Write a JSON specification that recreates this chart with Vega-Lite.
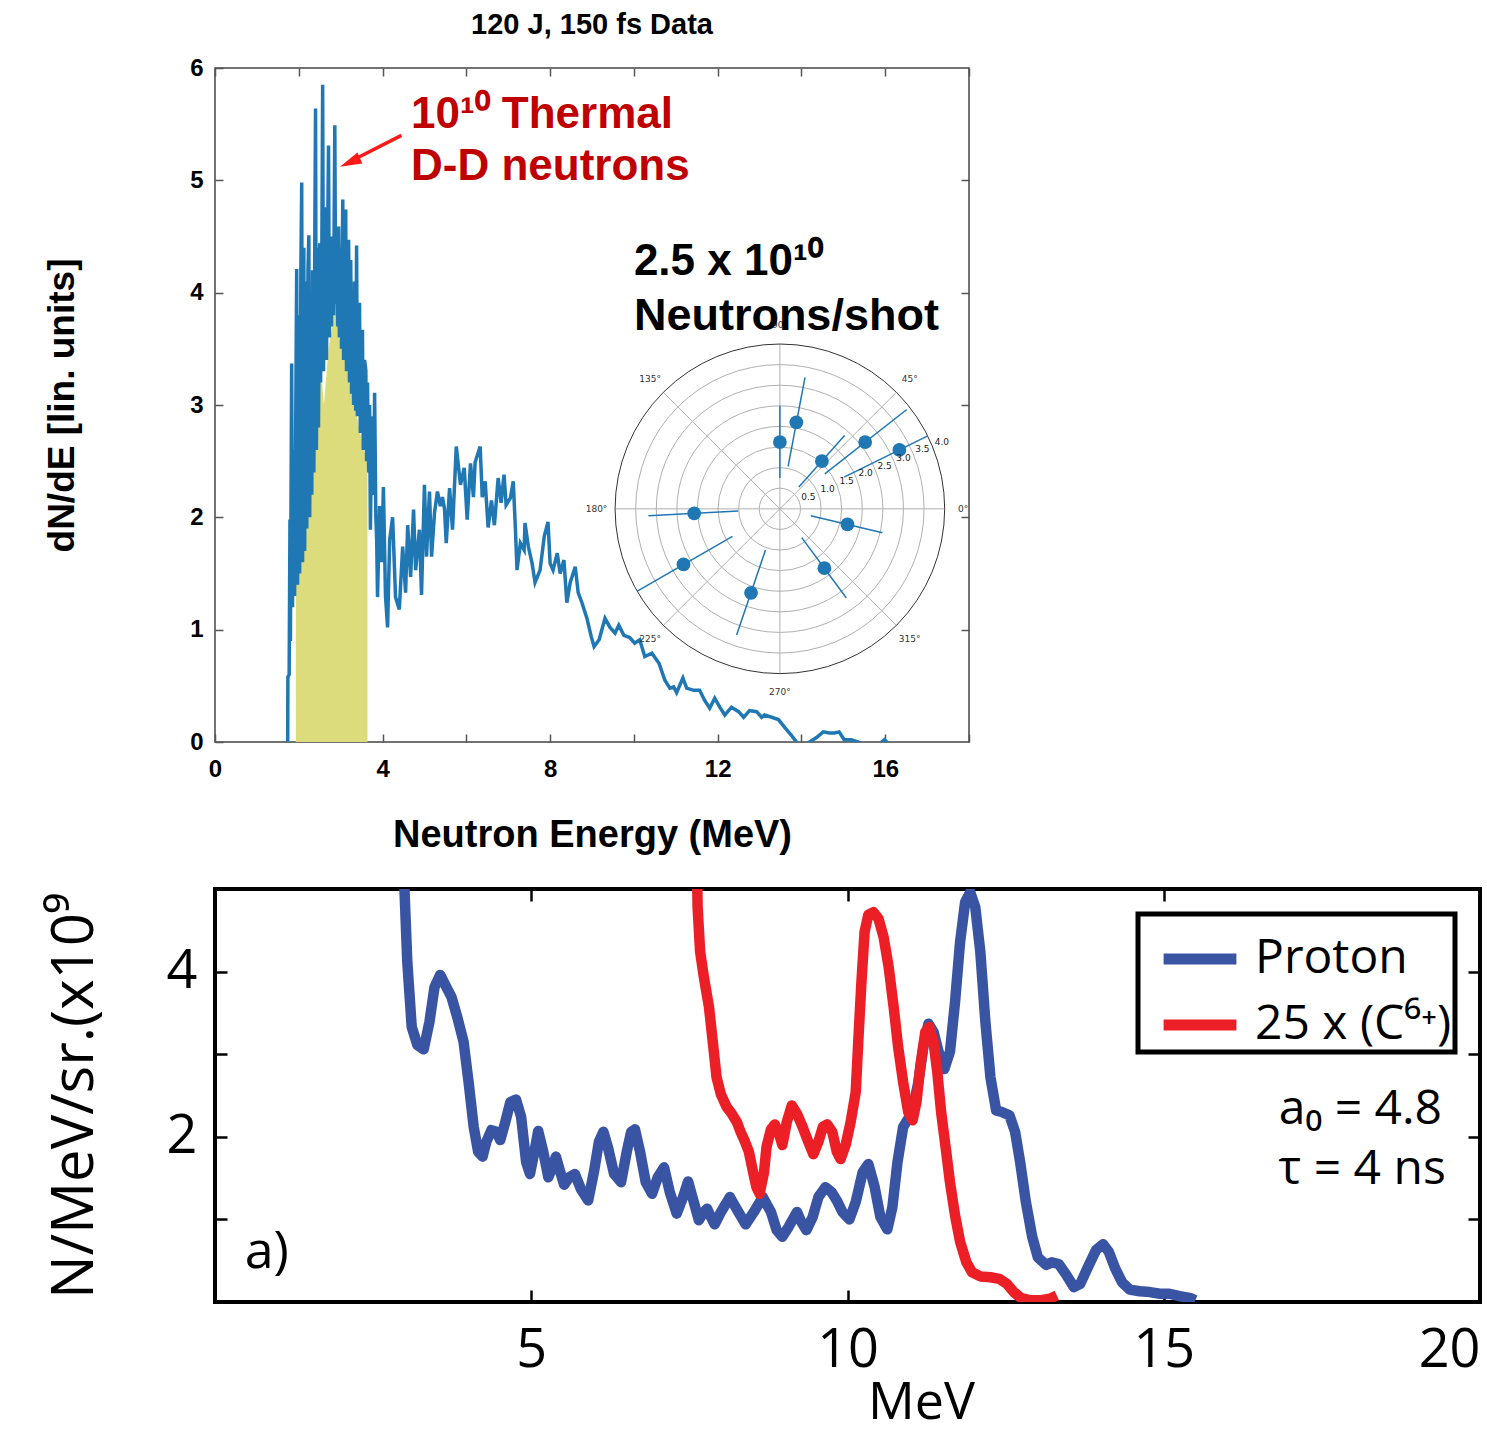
{
  "$schema": "https://vega.github.io/schema/vega-lite/v6.json",
  "background": "white",
  "padding": {"left": 42, "top": 10, "right": 0, "bottom": 0},
  "columns": 1,
  "align": "none",
  "spacing": 30,
  "resolve": {"scale": {"color": "independent", "size": "independent"}, "legend": {"color": "independent", "size": "independent"}},
  "datasets": {
    "neutron": [
      {"E":1.735,"v":-0.05},{"E":1.74,"v":0.58},{"E":1.77,"v":0.6},{"E":1.79,"v":1.98},{"E":1.80,"v":0.9},{"E":1.83,"v":3.37},{"E":1.85,"v":1.2},{"E":1.88,"v":2.6},{"E":1.90,"v":1.3},{"E":1.93,"v":3.0},{"E":1.95,"v":4.21},{"E":1.97,"v":1.4},{"E":2.00,"v":3.8},{"E":2.02,"v":1.5},{"E":2.05,"v":4.2},{"E":2.07,"v":4.98},{"E":2.09,"v":1.6},{"E":2.12,"v":4.4},{"E":2.14,"v":1.7},{"E":2.17,"v":4.1},{"E":2.19,"v":1.9},{"E":2.22,"v":4.2},{"E":2.24,"v":4.51},{"E":2.26,"v":2.0},{"E":2.29,"v":3.9},{"E":2.31,"v":2.2},{"E":2.33,"v":4.2},{"E":2.36,"v":2.4},{"E":2.38,"v":4.3},{"E":2.40,"v":5.64},{"E":2.42,"v":2.6},{"E":2.45,"v":4.4},{"E":2.47,"v":2.8},{"E":2.50,"v":4.44},{"E":2.52,"v":3.2},{"E":2.55,"v":4.3},{"E":2.57,"v":5.85},{"E":2.59,"v":3.3},{"E":2.62,"v":4.4},{"E":2.64,"v":4.76},{"E":2.66,"v":3.4},{"E":2.69,"v":4.5},{"E":2.71,"v":5.31},{"E":2.73,"v":3.6},{"E":2.76,"v":4.5},{"E":2.78,"v":3.7},{"E":2.81,"v":4.4},{"E":2.83,"v":3.8},{"E":2.86,"v":5.49},{"E":2.88,"v":3.9},{"E":2.90,"v":4.5},{"E":2.93,"v":3.7},{"E":2.95,"v":4.59},{"E":2.97,"v":3.6},{"E":3.00,"v":4.4},{"E":3.02,"v":3.5},{"E":3.05,"v":4.83},{"E":3.07,"v":3.4},{"E":3.10,"v":4.3},{"E":3.12,"v":4.74},{"E":3.14,"v":3.3},{"E":3.17,"v":4.2},{"E":3.19,"v":4.47},{"E":3.21,"v":3.2},{"E":3.24,"v":4.29},{"E":3.26,"v":3.1},{"E":3.29,"v":4.0},{"E":3.31,"v":3.0},{"E":3.33,"v":4.1},{"E":3.36,"v":2.95},{"E":3.38,"v":4.42},{"E":3.40,"v":2.9},{"E":3.43,"v":3.8},{"E":3.45,"v":3.91},{"E":3.47,"v":2.75},{"E":3.50,"v":3.5},{"E":3.52,"v":3.67},{"E":3.54,"v":2.6},{"E":3.57,"v":3.4},{"E":3.60,"v":3.31},{"E":3.62,"v":2.5},{"E":3.64,"v":3.2},{"E":3.67,"v":2.4},{"E":3.69,"v":3.0},{"E":3.71,"v":1.89},{"E":3.74,"v":2.8},{"E":3.76,"v":2.9},{"E":3.79,"v":2.2},{"E":3.81,"v":3.11},{"E":3.84,"v":2.0},{"E":3.86,"v":1.8},{"E":3.88,"v":1.29},{"E":3.93,"v":2.1},{"E":3.98,"v":1.6},{"E":4.02,"v":2.27},{"E":4.07,"v":1.3},{"E":4.12,"v":1.02},{"E":4.17,"v":1.8},{"E":4.24,"v":2.0},
      {"E":4.31,"v":1.29},{"E":4.40,"v":1.18},{"E":4.48,"v":1.74},{"E":4.55,"v":1.33},{"E":4.60,"v":1.93},{"E":4.67,"v":1.47},{"E":4.74,"v":2.07},{"E":4.79,"v":1.53},{"E":4.88,"v":1.89},{"E":4.93,"v":1.31},{"E":5.00,"v":2.29},{"E":5.05,"v":1.65},{"E":5.12,"v":2.23},{"E":5.17,"v":1.65},{"E":5.24,"v":2.04},{"E":5.31,"v":2.23},{"E":5.38,"v":2.10},{"E":5.43,"v":2.18},{"E":5.48,"v":2.07},{"E":5.52,"v":1.77},{"E":5.60,"v":2.26},{"E":5.67,"v":1.89},{"E":5.76,"v":2.63},{"E":5.86,"v":2.29},{"E":5.95,"v":2.44},{"E":6.02,"v":1.98},{"E":6.10,"v":2.48},{"E":6.17,"v":2.18},{"E":6.21,"v":2.49},{"E":6.33,"v":2.63},{"E":6.38,"v":2.18},{"E":6.45,"v":2.32},{"E":6.52,"v":1.91},{"E":6.60,"v":2.15},{"E":6.67,"v":1.93},{"E":6.76,"v":2.35},{"E":6.83,"v":2.13},{"E":6.90,"v":2.38},{"E":6.95,"v":2.11},{"E":7.05,"v":2.17},{"E":7.12,"v":2.32},{"E":7.17,"v":1.91},{"E":7.21,"v":1.53},{"E":7.29,"v":1.77},{"E":7.38,"v":1.71},{"E":7.40,"v":1.95},{"E":7.48,"v":1.74},{"E":7.57,"v":1.59},{"E":7.64,"v":1.42},{"E":7.76,"v":1.53},{"E":7.86,"v":1.83},{"E":7.95,"v":1.96},{"E":8.00,"v":1.59},{"E":8.07,"v":1.53},{"E":8.17,"v":1.68},{"E":8.24,"v":1.50},{"E":8.33,"v":1.62},{"E":8.40,"v":1.24},{"E":8.48,"v":1.42},{"E":8.60,"v":1.56},{"E":8.67,"v":1.33},{"E":8.76,"v":1.24},{"E":8.88,"v":1.10},{"E":8.98,"v":0.94},{"E":9.05,"v":0.85},{"E":9.17,"v":0.91},{"E":9.31,"v":1.10},{"E":9.43,"v":1.02},{"E":9.55,"v":0.97},{"E":9.64,"v":1.04},{"E":9.76,"v":0.95},{"E":9.90,"v":0.93},{"E":10.02,"v":0.88},{"E":10.14,"v":0.91},{"E":10.26,"v":0.76},{"E":10.43,"v":0.79},{"E":10.60,"v":0.70},{"E":10.74,"v":0.55},{"E":10.86,"v":0.48},{"E":10.95,"v":0.49},{"E":11.02,"v":0.44},{"E":11.17,"v":0.57},{"E":11.26,"v":0.48},{"E":11.43,"v":0.46},{"E":11.57,"v":0.46},{"E":11.69,"v":0.37},{"E":11.81,"v":0.30},{"E":11.93,"v":0.39},{"E":12.05,"v":0.31},{"E":12.17,"v":0.24},{"E":12.33,"v":0.31},{"E":12.50,"v":0.27},{"E":12.62,"v":0.22},{"E":12.76,"v":0.28},{"E":12.93,"v":0.27},{"E":13.05,"v":0.22},{"E":13.12,"v":0.24},{"E":13.29,"v":0.22},{"E":13.45,"v":0.20},{"E":13.60,"v":0.13},{"E":13.76,"v":0.06},{"E":13.88,"v":0.0},{"E":14.02,"v":-0.08},{"E":14.19,"v":0.0},{"E":14.36,"v":0.04},{"E":14.52,"v":0.09},{"E":14.67,"v":0.08},{"E":14.79,"v":0.08},{"E":14.90,"v":0.09},{"E":15.02,"v":0.02},{"E":15.19,"v":0.02},{"E":15.36,"v":0.0},{"E":15.55,"v":-0.04},{"E":15.79,"v":-0.04},{"E":15.98,"v":0.02},{"E":16.10,"v":-0.02},{"E":16.26,"v":-0.1}
    ],
    "thermal": [
      {"E":1.93,"v":1.45},{"E":2.05,"v":1.6},{"E":2.15,"v":1.9},{"E":2.25,"v":2.3},{"E":2.40,"v":2.75},{"E":2.52,"v":3.38},{"E":2.60,"v":3.0},{"E":2.71,"v":3.5},{"E":2.80,"v":3.7},{"E":2.88,"v":3.94},{"E":2.95,"v":3.6},{"E":3.05,"v":3.5},{"E":3.12,"v":3.42},{"E":3.20,"v":3.2},{"E":3.33,"v":3.02},{"E":3.45,"v":2.78},{"E":3.55,"v":2.6},{"E":3.64,"v":2.5}
    ],
    "rings": [{"r":0.5},{"r":1.0},{"r":1.5},{"r":2.0},{"r":2.5},{"r":3.0},{"r":3.5},{"r":4.0}],
    "spokes": [
      {"x1":-4,"y1":0,"x2":4,"y2":0},{"x1":0,"y1":-4,"x2":0,"y2":4},{"x1":-2.828,"y1":-2.828,"x2":2.828,"y2":2.828},{"x1":-2.828,"y1":2.828,"x2":2.828,"y2":-2.828}
    ],
    "polar": [
      {"x":0,"y":1.62,"ex1":0,"ey1":0.75,"ex2":0,"ey2":2.5},
      {"x":0.40,"y":2.10,"ex1":0.20,"ey1":1.03,"ex2":0.61,"ey2":3.19},
      {"x":1.02,"y":1.16,"ex1":0.46,"ey1":0.53,"ex2":1.57,"ey2":1.78},
      {"x":2.07,"y":1.62,"ex1":1.09,"ey1":0.85,"ex2":3.08,"ey2":2.41},
      {"x":2.90,"y":1.43,"ex1":1.56,"ey1":0.77,"ex2":3.59,"ey2":1.77},
      {"x":1.64,"y":-0.38,"ex1":0.75,"ey1":-0.17,"ex2":2.49,"ey2":-0.58},
      {"x":1.08,"y":-1.44,"ex1":0.53,"ey1":-0.70,"ex2":1.61,"ey2":-2.16},
      {"x":-0.70,"y":-2.04,"ex1":-0.35,"ey1":-1.00,"ex2":-1.05,"ey2":-3.06},
      {"x":-2.34,"y":-1.35,"ex1":-1.15,"ey1":-0.67,"ex2":-3.46,"ey2":-2.00},
      {"x":-2.08,"y":-0.11,"ex1":-1.01,"ey1":-0.05,"ex2":-3.19,"ey2":-0.17}
    ],
    "angleLabels": [
      {"label":"0°","x":4.45,"y":0},{"label":"45°","x":3.15,"y":3.15},{"label":"90°","x":0,"y":4.45},{"label":"135°","x":-3.15,"y":3.15},
      {"label":"180°","x":-4.45,"y":0},{"label":"225°","x":-3.15,"y":-3.15},{"label":"270°","x":0,"y":-4.45},{"label":"315°","x":3.15,"y":-3.15}
    ],
    "radialLabels": [
      {"label":"0.5","x":0.69,"y":0.29},{"label":"1.0","x":1.16,"y":0.48},{"label":"1.5","x":1.62,"y":0.67},{"label":"2.0","x":2.08,"y":0.86},
      {"label":"2.5","x":2.54,"y":1.05},{"label":"3.0","x":3.00,"y":1.24},{"label":"3.5","x":3.46,"y":1.44},{"label":"4.0","x":3.93,"y":1.63}
    ],
    "ion": [
      {"s":"Proton","E":2.98,"v":5.3},{"s":"Proton","E":3.04,"v":4.12},{"s":"Proton","E":3.11,"v":3.33},{"s":"Proton","E":3.20,"v":3.11},{"s":"Proton","E":3.30,"v":3.06},{"s":"Proton","E":3.39,"v":3.39},{"s":"Proton","E":3.47,"v":3.81},{"s":"Proton","E":3.56,"v":3.96},{"s":"Proton","E":3.66,"v":3.81},{"s":"Proton","E":3.74,"v":3.69},{"s":"Proton","E":3.83,"v":3.45},{"s":"Proton","E":3.93,"v":3.15},{"s":"Proton","E":4.01,"v":2.66},{"s":"Proton","E":4.09,"v":2.12},{"s":"Proton","E":4.16,"v":1.82},{"s":"Proton","E":4.23,"v":1.76},{"s":"Proton","E":4.29,"v":1.94},{"s":"Proton","E":4.37,"v":2.08},{"s":"Proton","E":4.45,"v":2.06},{"s":"Proton","E":4.51,"v":1.96},{"s":"Proton","E":4.59,"v":2.18},{"s":"Proton","E":4.67,"v":2.42},{"s":"Proton","E":4.76,"v":2.45},{"s":"Proton","E":4.84,"v":2.24},{"s":"Proton","E":4.92,"v":1.69},{"s":"Proton","E":4.98,"v":1.55},{"s":"Proton","E":5.05,"v":1.82},{"s":"Proton","E":5.11,"v":2.07},{"s":"Proton","E":5.19,"v":1.82},{"s":"Proton","E":5.27,"v":1.51},{"s":"Proton","E":5.33,"v":1.63},{"s":"Proton","E":5.39,"v":1.76},{"s":"Proton","E":5.46,"v":1.57},{"s":"Proton","E":5.52,"v":1.42},{"s":"Proton","E":5.60,"v":1.51},{"s":"Proton","E":5.69,"v":1.55},{"s":"Proton","E":5.79,"v":1.36},{"s":"Proton","E":5.90,"v":1.23},{"s":"Proton","E":5.99,"v":1.57},{"s":"Proton","E":6.07,"v":1.94},{"s":"Proton","E":6.14,"v":2.06},{"s":"Proton","E":6.21,"v":1.88},{"s":"Proton","E":6.31,"v":1.55},{"s":"Proton","E":6.42,"v":1.45},{"s":"Proton","E":6.51,"v":1.82},{"s":"Proton","E":6.58,"v":2.06},{"s":"Proton","E":6.64,"v":2.09},{"s":"Proton","E":6.72,"v":1.82},{"s":"Proton","E":6.81,"v":1.45},{"s":"Proton","E":6.91,"v":1.31},{"s":"Proton","E":7.00,"v":1.51},{"s":"Proton","E":7.10,"v":1.63},{"s":"Proton","E":7.19,"v":1.33},{"s":"Proton","E":7.30,"v":1.07},{"s":"Proton","E":7.40,"v":1.27},{"s":"Proton","E":7.48,"v":1.46},{"s":"Proton","E":7.57,"v":1.21},{"s":"Proton","E":7.65,"v":0.99},{"s":"Proton","E":7.71,"v":1.07},{"s":"Proton","E":7.78,"v":1.13},{"s":"Proton","E":7.84,"v":1.03},{"s":"Proton","E":7.90,"v":0.94},{"s":"Proton","E":8.00,"v":1.09},{"s":"Proton","E":8.14,"v":1.27},{"s":"Proton","E":8.26,"v":1.11},{"s":"Proton","E":8.39,"v":0.94},{"s":"Proton","E":8.52,"v":1.09},{"s":"Proton","E":8.66,"v":1.27},{"s":"Proton","E":8.79,"v":1.09},{"s":"Proton","E":8.88,"v":0.87},{"s":"Proton","E":8.97,"v":0.79},{"s":"Proton","E":9.07,"v":0.91},{"s":"Proton","E":9.20,"v":1.09},{"s":"Proton","E":9.27,"v":0.97},{"s":"Proton","E":9.35,"v":0.87},{"s":"Proton","E":9.45,"v":1.03},{"s":"Proton","E":9.54,"v":1.27},{"s":"Proton","E":9.65,"v":1.39},{"s":"Proton","E":9.75,"v":1.33},{"s":"Proton","E":9.83,"v":1.23},{"s":"Proton","E":9.92,"v":1.09},{"s":"Proton","E":10.03,"v":1.00},{"s":"Proton","E":10.13,"v":1.21},{"s":"Proton","E":10.24,"v":1.57},{"s":"Proton","E":10.33,"v":1.67},{"s":"Proton","E":10.43,"v":1.39},{"s":"Proton","E":10.52,"v":1.03},{"s":"Proton","E":10.63,"v":0.88},{"s":"Proton","E":10.71,"v":1.15},{"s":"Proton","E":10.79,"v":1.69},{"s":"Proton","E":10.88,"v":2.12},{"s":"Proton","E":10.96,"v":2.22},{"s":"Proton","E":11.04,"v":2.36},{"s":"Proton","E":11.12,"v":2.66},{"s":"Proton","E":11.20,"v":3.09},{"s":"Proton","E":11.28,"v":3.37},{"s":"Proton","E":11.36,"v":3.27},{"s":"Proton","E":11.44,"v":3.03},{"s":"Proton","E":11.53,"v":2.82},{"s":"Proton","E":11.62,"v":3.03},{"s":"Proton","E":11.70,"v":3.63},{"s":"Proton","E":11.78,"v":4.36},{"s":"Proton","E":11.86,"v":4.84},{"s":"Proton","E":11.94,"v":4.96},{"s":"Proton","E":12.02,"v":4.78},{"s":"Proton","E":12.10,"v":4.24},{"s":"Proton","E":12.18,"v":3.39},{"s":"Proton","E":12.26,"v":2.72},{"s":"Proton","E":12.35,"v":2.32},{"s":"Proton","E":12.44,"v":2.30},{"s":"Proton","E":12.56,"v":2.26},{"s":"Proton","E":12.65,"v":2.06},{"s":"Proton","E":12.73,"v":1.69},{"s":"Proton","E":12.82,"v":1.21},{"s":"Proton","E":12.92,"v":0.79},{"s":"Proton","E":13.01,"v":0.54},{"s":"Proton","E":13.14,"v":0.45},{"s":"Proton","E":13.23,"v":0.48},{"s":"Proton","E":13.34,"v":0.46},{"s":"Proton","E":13.45,"v":0.34},{"s":"Proton","E":13.58,"v":0.18},{"s":"Proton","E":13.68,"v":0.22},{"s":"Proton","E":13.80,"v":0.42},{"s":"Proton","E":13.93,"v":0.63},{"s":"Proton","E":14.04,"v":0.70},{"s":"Proton","E":14.13,"v":0.61},{"s":"Proton","E":14.23,"v":0.41},{"s":"Proton","E":14.34,"v":0.24},{"s":"Proton","E":14.46,"v":0.15},{"s":"Proton","E":14.62,"v":0.13},{"s":"Proton","E":14.78,"v":0.12},{"s":"Proton","E":14.94,"v":0.10},{"s":"Proton","E":15.09,"v":0.10},{"s":"Proton","E":15.25,"v":0.07},{"s":"Proton","E":15.41,"v":0.05},{"s":"Proton","E":15.50,"v":0.02},
      {"s":"25 x (C⁶⁺)","E":7.62,"v":5.3},{"s":"25 x (C⁶⁺)","E":7.63,"v":4.78},{"s":"25 x (C⁶⁺)","E":7.67,"v":4.24},{"s":"25 x (C⁶⁺)","E":7.73,"v":3.93},{"s":"25 x (C⁶⁺)","E":7.81,"v":3.57},{"s":"25 x (C⁶⁺)","E":7.87,"v":3.15},{"s":"25 x (C⁶⁺)","E":7.93,"v":2.72},{"s":"25 x (C⁶⁺)","E":8.00,"v":2.51},{"s":"25 x (C⁶⁺)","E":8.09,"v":2.36},{"s":"25 x (C⁶⁺)","E":8.17,"v":2.28},{"s":"25 x (C⁶⁺)","E":8.25,"v":2.18},{"s":"25 x (C⁶⁺)","E":8.31,"v":2.06},{"s":"25 x (C⁶⁺)","E":8.38,"v":1.94},{"s":"25 x (C⁶⁺)","E":8.44,"v":1.82},{"s":"25 x (C⁶⁺)","E":8.50,"v":1.60},{"s":"25 x (C⁶⁺)","E":8.56,"v":1.39},{"s":"25 x (C⁶⁺)","E":8.61,"v":1.31},{"s":"25 x (C⁶⁺)","E":8.68,"v":1.57},{"s":"25 x (C⁶⁺)","E":8.72,"v":1.88},{"s":"25 x (C⁶⁺)","E":8.79,"v":2.09},{"s":"25 x (C⁶⁺)","E":8.85,"v":2.15},{"s":"25 x (C⁶⁺)","E":8.91,"v":2.06},{"s":"25 x (C⁶⁺)","E":8.97,"v":1.90},{"s":"25 x (C⁶⁺)","E":9.04,"v":2.18},{"s":"25 x (C⁶⁺)","E":9.12,"v":2.38},{"s":"25 x (C⁶⁺)","E":9.20,"v":2.28},{"s":"25 x (C⁶⁺)","E":9.29,"v":2.12},{"s":"25 x (C⁶⁺)","E":9.38,"v":1.94},{"s":"25 x (C⁶⁺)","E":9.46,"v":1.79},{"s":"25 x (C⁶⁺)","E":9.54,"v":1.94},{"s":"25 x (C⁶⁺)","E":9.61,"v":2.12},{"s":"25 x (C⁶⁺)","E":9.68,"v":2.15},{"s":"25 x (C⁶⁺)","E":9.76,"v":2.06},{"s":"25 x (C⁶⁺)","E":9.83,"v":1.82},{"s":"25 x (C⁶⁺)","E":9.89,"v":1.73},{"s":"25 x (C⁶⁺)","E":9.97,"v":1.90},{"s":"25 x (C⁶⁺)","E":10.05,"v":2.18},{"s":"25 x (C⁶⁺)","E":10.13,"v":2.54},{"s":"25 x (C⁶⁺)","E":10.17,"v":3.15},{"s":"25 x (C⁶⁺)","E":10.22,"v":3.87},{"s":"25 x (C⁶⁺)","E":10.27,"v":4.48},{"s":"25 x (C⁶⁺)","E":10.33,"v":4.69},{"s":"25 x (C⁶⁺)","E":10.41,"v":4.72},{"s":"25 x (C⁶⁺)","E":10.49,"v":4.64},{"s":"25 x (C⁶⁺)","E":10.57,"v":4.42},{"s":"25 x (C⁶⁺)","E":10.65,"v":4.06},{"s":"25 x (C⁶⁺)","E":10.73,"v":3.57},{"s":"25 x (C⁶⁺)","E":10.80,"v":3.09},{"s":"25 x (C⁶⁺)","E":10.88,"v":2.66},{"s":"25 x (C⁶⁺)","E":10.96,"v":2.30},{"s":"25 x (C⁶⁺)","E":11.03,"v":2.20},{"s":"25 x (C⁶⁺)","E":11.09,"v":2.42},{"s":"25 x (C⁶⁺)","E":11.15,"v":2.85},{"s":"25 x (C⁶⁺)","E":11.23,"v":3.27},{"s":"25 x (C⁶⁺)","E":11.29,"v":3.33},{"s":"25 x (C⁶⁺)","E":11.36,"v":3.15},{"s":"25 x (C⁶⁺)","E":11.42,"v":2.78},{"s":"25 x (C⁶⁺)","E":11.48,"v":2.30},{"s":"25 x (C⁶⁺)","E":11.56,"v":1.82},{"s":"25 x (C⁶⁺)","E":11.62,"v":1.45},{"s":"25 x (C⁶⁺)","E":11.70,"v":1.05},{"s":"25 x (C⁶⁺)","E":11.78,"v":0.73},{"s":"25 x (C⁶⁺)","E":11.88,"v":0.48},{"s":"25 x (C⁶⁺)","E":11.97,"v":0.36},{"s":"25 x (C⁶⁺)","E":12.10,"v":0.31},{"s":"25 x (C⁶⁺)","E":12.26,"v":0.30},{"s":"25 x (C⁶⁺)","E":12.40,"v":0.28},{"s":"25 x (C⁶⁺)","E":12.52,"v":0.22},{"s":"25 x (C⁶⁺)","E":12.63,"v":0.12},{"s":"25 x (C⁶⁺)","E":12.74,"v":0.05},{"s":"25 x (C⁶⁺)","E":12.89,"v":0.02},{"s":"25 x (C⁶⁺)","E":13.04,"v":0.02},{"s":"25 x (C⁶⁺)","E":13.20,"v":0.04},{"s":"25 x (C⁶⁺)","E":13.31,"v":0.08}
    ]
  },
  "concat": [
    {
      "title": {"text": "120 J, 150 fs Data", "font": "Liberation Sans", "fontSize": 29, "fontWeight": "bold", "color": "black", "offset": 16, "anchor": "middle"},
      "width": 754,
      "height": 674,
      "view": {"stroke": "#444444", "strokeWidth": 1.5},
      "resolve": {"scale": {"x": "independent", "y": "independent"}},
      "layer": [
        {
          "layer": [
            {
              "data": {"name": "thermal"},
              "mark": {"type": "area", "color": "#dcdc7c", "opacity": 1},
              "encoding": {
                "x": {"field": "E", "type": "quantitative", "scale": {"domain": [0, 18], "nice": false, "zero": false},
                  "axis": {"values": [0,2,4,6,8,10,12,14,16,18], "format": "d", "labelExpr": "datum.value % 4 === 0 && datum.value <= 16 ? datum.label : ''", "title": "Neutron Energy (MeV)", "grid": false, "domain": false, "tickSize": -8, "tickColor": "#555555", "tickWidth": 1.5, "labelFont": "Liberation Sans", "labelFontSize": 24, "labelFontWeight": "bold", "labelColor": "black", "labelPadding": 23, "labelFlush": false, "labelOverlap": false, "titleFont": "Liberation Sans", "titleFontSize": 38, "titleFontWeight": "bold", "titleColor": "black", "titlePadding": 35}},
                "y": {"field": "v", "type": "quantitative", "scale": {"domain": [0, 6], "nice": false},
                  "axis": {"values": [0,1,2,3,4,5,6], "format": "d", "title": "dN/dE [lin. units]", "grid": false, "domain": false, "tickSize": -8, "tickColor": "#555555", "tickWidth": 1.5, "labelFont": "Liberation Sans", "labelFontSize": 24, "labelFontWeight": "bold", "labelColor": "black", "labelPadding": 20, "labelFlush": false, "titleFont": "Liberation Sans", "titleFontSize": 37, "titleFontWeight": "bold", "titleColor": "black", "titlePadding": 108}}
              }
            },
            {
              "data": {"name": "neutron"},
              "mark": {"type": "line", "color": "#1f77b4", "strokeWidth": 3.5, "clip": true},
              "encoding": {
                "x": {"field": "E", "type": "quantitative"},
                "y": {"field": "v", "type": "quantitative"}
              }
            }
          ]
        },
        {
          "layer": [
            {
              "data": {"name": "spokes"},
              "mark": {"type": "rule", "color": "#b0b0b0", "strokeWidth": 1},
              "encoding": {
                "x": {"field": "x1", "type": "quantitative", "scale": {"domain": [-13.71, 4.59], "nice": false, "zero": false}, "axis": null},
                "y": {"field": "y1", "type": "quantitative", "scale": {"domain": [-5.66, 10.70], "nice": false, "zero": false}, "axis": null},
                "x2": {"field": "x2"},
                "y2": {"field": "y2"}
              }
            },
            {
              "data": {"name": "rings"},
              "transform": [{"filter": "datum.r < 4"}],
              "mark": {"type": "point", "shape": "circle", "filled": false, "color": "#b0b0b0", "strokeWidth": 1, "opacity": 1},
              "encoding": {
                "x": {"datum": 0, "type": "quantitative"},
                "y": {"datum": 0, "type": "quantitative"},
                "size": {"field": "r", "type": "quantitative", "scale": {"type": "pow", "exponent": 2, "domain": [0, 4], "range": [0, 108636]}, "legend": null}
              }
            },
            {
              "data": {"name": "rings"},
              "transform": [{"filter": "datum.r >= 4"}],
              "mark": {"type": "point", "shape": "circle", "filled": false, "color": "#333333", "strokeWidth": 1, "opacity": 1},
              "encoding": {
                "x": {"datum": 0, "type": "quantitative"},
                "y": {"datum": 0, "type": "quantitative"},
                "size": {"field": "r", "type": "quantitative", "legend": null}
              }
            },
            {
              "data": {"name": "polar"},
              "mark": {"type": "rule", "color": "#1f77b4", "strokeWidth": 1.5},
              "encoding": {
                "x": {"field": "ex1", "type": "quantitative"},
                "y": {"field": "ey1", "type": "quantitative"},
                "x2": {"field": "ex2"},
                "y2": {"field": "ey2"}
              }
            },
            {
              "data": {"name": "polar"},
              "mark": {"type": "point", "shape": "circle", "filled": true, "color": "#1f77b4", "size": 190, "opacity": 1},
              "encoding": {
                "x": {"field": "x", "type": "quantitative"},
                "y": {"field": "y", "type": "quantitative"}
              }
            },
            {
              "data": {"name": "angleLabels"},
              "mark": {"type": "text", "font": "DejaVu Sans", "fontSize": 9, "color": "#333333", "align": "center", "baseline": "middle"},
              "encoding": {
                "x": {"field": "x", "type": "quantitative"},
                "y": {"field": "y", "type": "quantitative"},
                "text": {"field": "label"}
              }
            },
            {
              "data": {"name": "radialLabels"},
              "mark": {"type": "text", "font": "DejaVu Sans", "fontSize": 9, "color": "#222222", "align": "center", "baseline": "middle"},
              "encoding": {
                "x": {"field": "x", "type": "quantitative"},
                "y": {"field": "y", "type": "quantitative"},
                "text": {"field": "label"}
              }
            }
          ]
        },
        {
          "data": {"values": [{}]},
          "layer": [
            {
              "mark": {"type": "point", "opacity": 0},
              "encoding": {
                "x": {"datum": 0, "type": "quantitative", "scale": {"domain": [0, 18], "nice": false, "zero": false},
                  "axis": {"orient": "top", "values": [0,2,4,6,8,10,12,14,16,18], "labels": false, "domain": false, "grid": false, "tickSize": -8, "tickColor": "#555555", "tickWidth": 1.5, "title": null}},
                "y": {"datum": 0, "type": "quantitative", "scale": {"domain": [0, 6], "nice": false},
                  "axis": {"orient": "right", "values": [1,2,3,4,5], "labels": false, "domain": false, "grid": false, "tickSize": -8, "tickColor": "#555555", "tickWidth": 1.5, "title": null}}
              }
            },
            {
              "mark": {"type": "text", "text": "10¹⁰ Thermal", "font": "Liberation Sans", "fontSize": 44, "fontWeight": "bold", "color": "#c00000", "align": "left", "baseline": "middle"},
              "encoding": {"x": {"datum": 4.68, "type": "quantitative"}, "y": {"datum": 5.58, "type": "quantitative"}}
            },
            {
              "mark": {"type": "text", "text": "D-D neutrons", "font": "Liberation Sans", "fontSize": 44, "fontWeight": "bold", "color": "#c00000", "align": "left", "baseline": "middle"},
              "encoding": {"x": {"datum": 4.68, "type": "quantitative"}, "y": {"datum": 5.12, "type": "quantitative"}}
            },
            {
              "mark": {"type": "text", "text": "2.5 x 10¹⁰", "font": "Liberation Sans", "fontSize": 44, "fontWeight": "bold", "color": "black", "align": "left", "baseline": "middle"},
              "encoding": {"x": {"datum": 10.0, "type": "quantitative"}, "y": {"datum": 4.27, "type": "quantitative"}}
            },
            {
              "mark": {"type": "text", "text": "Neutrons/shot", "font": "Liberation Sans", "fontSize": 45, "fontWeight": "bold", "color": "black", "align": "left", "baseline": "middle"},
              "encoding": {"x": {"datum": 10.0, "type": "quantitative"}, "y": {"datum": 3.79, "type": "quantitative"}}
            },
            {
              "mark": {"type": "rule", "color": "#ff1a1a", "strokeWidth": 3.5},
              "encoding": {"x": {"datum": 4.45, "type": "quantitative"}, "y": {"datum": 5.40, "type": "quantitative"}, "x2": {"datum": 3.24}, "y2": {"datum": 5.17}}
            },
            {
              "mark": {"type": "point", "shape": "M -1 0 L 1 -0.55 L 1 0.55 Z", "filled": true, "color": "#ff1a1a", "size": 480, "angle": 336, "opacity": 1},
              "encoding": {"x": {"datum": 3.22, "type": "quantitative"}, "y": {"datum": 5.16, "type": "quantitative"}}
            }
          ]
        }
      ]
    },
    {
      "width": 1265,
      "height": 413,
      "view": {"stroke": "black", "strokeWidth": 4},
      "resolve": {"scale": {"x": "independent", "y": "independent"}},
      "layer": [
        {
          "layer": [
            {
              "data": {"name": "ion"},
              "mark": {"type": "line", "strokeWidth": 10.5, "clip": true, "strokeJoin": "round"},
              "encoding": {
                "x": {"field": "E", "type": "quantitative", "scale": {"domain": [0, 20], "nice": false, "zero": false},
                  "axis": {"values": [5, 10, 15, 20], "format": "d", "title": "MeV", "grid": false, "domain": false, "tickSize": -12, "tickColor": "black", "tickWidth": 2.5, "labelFont": "Open Sans", "labelFontSize": 54, "labelColor": "black", "labelPadding": 33, "labelFlush": true, "titleFont": "Open Sans", "titleFontSize": 52, "titleFontWeight": "normal", "titleColor": "black", "titlePadding": 0, "titleX": 706}},
                "y": {"field": "v", "type": "quantitative", "scale": {"domain": [0, 5], "nice": false},
                  "axis": {"values": [1, 2, 3, 4], "format": "d", "labelExpr": "datum.value % 2 === 0 ? datum.label : ''", "title": "N/MeV/sr.(x10⁹", "grid": false, "domain": false, "tickSize": -12, "tickColor": "black", "tickWidth": 2.5, "labelFont": "Open Sans", "labelFontSize": 54, "labelColor": "black", "labelPadding": 30, "titleFont": "Open Sans", "titleFontSize": 58, "titleFontWeight": "normal", "titleColor": "black", "titlePadding": 62}},
                "color": {"field": "s", "type": "nominal", "scale": {"domain": ["Proton", "25 x (C⁶⁺)"], "range": ["#3a54a4", "#ed1f26"]},
                  "legend": {"title": null, "orient": "top-right", "offset": 25, "symbolType": "stroke", "symbolStrokeWidth": 11, "symbolSize": 5300, "symbolOffset": 17, "labelFont": "Open Sans", "labelFontSize": 48, "labelColor": "black", "labelLimit": 0, "labelOffset": 13, "strokeColor": "black", "fillColor": "white", "padding": 3, "rowPadding": 0, "cornerRadius": 0,
                    "encode": {"legend": {"update": {"strokeWidth": {"value": 5}}}}}}
              }
            },
            {
              "data": {"values": [{}]},
              "mark": {"type": "text", "text": "a)", "font": "Open Sans", "fontSize": 52, "color": "black", "align": "left", "baseline": "middle"},
              "encoding": {"x": {"datum": 0.47, "type": "quantitative"}, "y": {"datum": 0.61, "type": "quantitative"}}
            },
            {
              "data": {"values": [{}]},
              "mark": {"type": "text", "text": "a₀ = 4.8", "font": "Open Sans", "fontSize": 48, "color": "black", "align": "right", "baseline": "middle"},
              "encoding": {"x": {"datum": 19.4, "type": "quantitative"}, "y": {"datum": 2.32, "type": "quantitative"}}
            },
            {
              "data": {"values": [{}]},
              "mark": {"type": "text", "text": "τ = 4 ns", "font": "Open Sans", "fontSize": 48, "color": "black", "align": "right", "baseline": "middle"},
              "encoding": {"x": {"datum": 19.46, "type": "quantitative"}, "y": {"datum": 1.60, "type": "quantitative"}}
            }
          ]
        },
        {
          "data": {"values": [{}]},
          "mark": {"type": "point", "opacity": 0},
          "encoding": {
            "x": {"datum": 0, "type": "quantitative", "scale": {"domain": [0, 20], "nice": false, "zero": false},
              "axis": {"orient": "top", "values": [5, 10, 15], "labels": false, "domain": false, "grid": false, "tickSize": -12, "tickColor": "black", "tickWidth": 2.5, "title": null}},
            "y": {"datum": 0, "type": "quantitative", "scale": {"domain": [0, 5], "nice": false},
              "axis": {"orient": "right", "values": [1, 2, 3, 4], "labels": false, "domain": false, "grid": false, "tickSize": -12, "tickColor": "black", "tickWidth": 2.5, "title": null}}
          }
        }
      ]
    }
  ]
}
